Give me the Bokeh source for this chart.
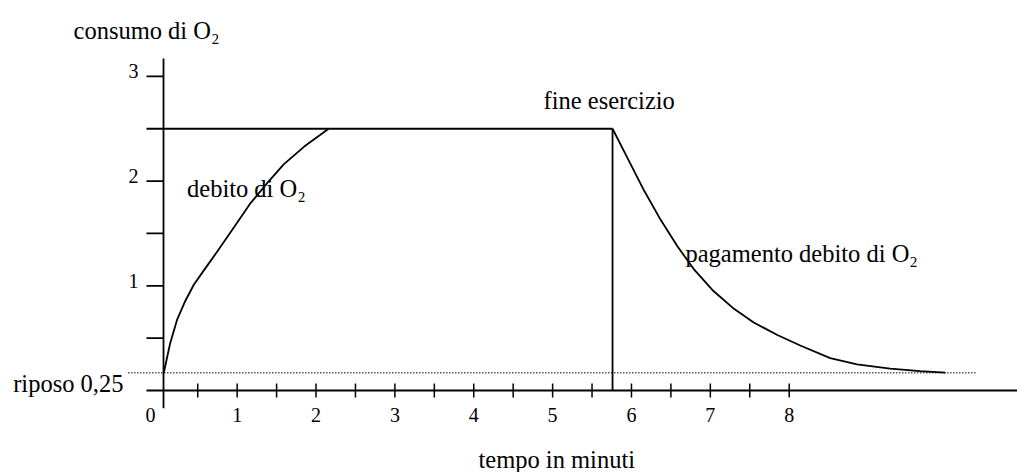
from bokeh.plotting import figure
from bokeh.models import Range1d, ColumnDataSource
from bokeh.core.properties import value
from bokeh.embed import file_html
from bokeh.resources import INLINE

# ---- data ----
rise_x = [0.07, 0.11, 0.15, 0.24, 0.345, 0.45, 0.58, 0.75, 0.96, 1.17, 1.38, 1.59, 1.85, 2.16]
rise_y = [0.17, 0.31, 0.45, 0.68, 0.86, 1.01, 1.15, 1.33, 1.56, 1.79, 1.98, 2.16, 2.33, 2.50]
decay_x = [5.76, 5.95, 6.16, 6.37, 6.58, 6.79, 7.04, 7.30, 7.55, 7.85, 8.14, 8.52, 8.86, 9.28, 9.66, 9.98]
decay_y = [2.50, 2.22, 1.91, 1.63, 1.38, 1.16, 0.95, 0.78, 0.65, 0.53, 0.43, 0.31, 0.25, 0.21, 0.185, 0.17]
plateau_level = 2.5
rest_level = 0.17
end_exercise = 5.76
x_ticks = [0.5, 1, 1.5, 2, 2.5, 3, 3.5, 4, 4.5, 5, 5.5, 6, 6.5, 7, 7.5, 8]
x_tick_labels = ["0", "1", "2", "3", "4", "5", "6", "7", "8"]
x_label_pos = [-0.1, 1, 2, 3, 4, 5, 6, 7, 8]
y_ticks = [0.5, 1, 1.5, 2, 3]
y_tick_labels = ["1", "2", "3"]
y_label_pos = [1, 2, 3]

FONT = value("Liberation Serif")

p = figure(width=1017, height=472, output_backend="svg", toolbar_location=None,
           x_range=Range1d(-2.001, 10.895), y_range=Range1d(-0.783, 3.725),
           min_border=0, outline_line_color=None)
p.axis.visible = False
p.grid.visible = False
p.background_fill_color = "white"
p.border_fill_color = "white"

yaxis_x = 0.066
lw = 1.8

# axes drawn as schematic lines
p.segment(x0=[yaxis_x], y0=[-0.17], x1=[yaxis_x], y1=[3.17], line_color="black", line_width=lw)
p.segment(x0=[-0.15], y0=[0], x1=[10.9], y1=[0], line_color="black", line_width=lw)
# y ticks (outside)
p.segment(x0=[-0.15] * len(y_ticks), y0=y_ticks, x1=[yaxis_x] * len(y_ticks), y1=y_ticks,
          line_color="black", line_width=lw)
# x ticks (crossing)
p.segment(x0=x_ticks, y0=[-0.067] * len(x_ticks), x1=x_ticks, y1=[0.067] * len(x_ticks),
          line_color="black", line_width=1.5)

# rest level dotted line
p.line(x=[-0.38, 10.38], y=[rest_level, rest_level], line_color="black", line_width=1.4,
       line_dash="1 2")

# plateau & end-of-exercise line
p.line(x=[-0.15, end_exercise], y=[plateau_level, plateau_level], line_color="black", line_width=lw)
p.line(x=[end_exercise, end_exercise], y=[plateau_level, 0], line_color="black", line_width=lw)

# curves
p.line(x=rise_x, y=rise_y, line_color="black", line_width=lw, line_join="round")
p.line(x=decay_x, y=decay_y, line_color="black", line_width=lw, line_join="round")

# tick labels
p.text(x=x_label_pos, y=[-0.23] * len(x_label_pos), text=x_tick_labels, text_font=FONT,
       text_font_size="20px", text_align="center", text_baseline="middle", text_color="black")
p.text(x=[-0.25] * len(y_label_pos), y=[v + 0.05 for v in y_label_pos], text=y_tick_labels,
       text_font=FONT, text_font_size="20px", text_align="right", text_baseline="middle",
       text_color="black")

# annotations
ann = ColumnDataSource(dict(
    x=[-1.075, 4.885, 0.364, 6.685, 4.06, -1.84],
    y=[3.438, 2.77, 1.926, 1.306, -0.655, 0.067],
    t=["consumo di O\u2082", "fine esercizio", "debito di O\u2082",
       "pagamento debito di O\u2082", "tempo in minuti", "riposo 0,25"],
))
p.text(x="x", y="y", text="t", source=ann, text_font=FONT, text_font_size="24.5px",
       text_align="left", text_baseline="alphabetic", text_color="black")

open("out.html", "w").write(file_html(p, INLINE))
